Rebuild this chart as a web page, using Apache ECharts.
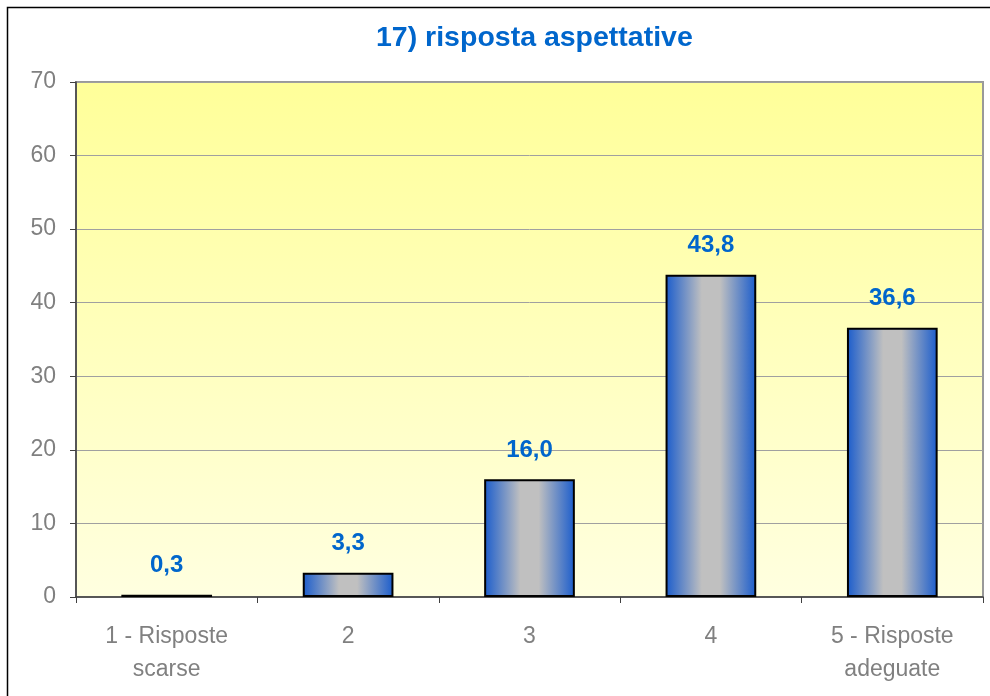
<!DOCTYPE html>
<html>
<head>
<meta charset="utf-8">
<script src="https://cdn.jsdelivr.net/npm/echarts@6/dist/echarts.min.js"></script>
<style>
  html, body { margin: 0; padding: 0; background: #fff; }
  #chart { width: 990px; height: 696px; }
</style>
</head>
<body>
<div id="chart"></div>
<script>
var categories = ["1 - Risposte\nscarse", "2", "3", "4", "5 - Risposte\nadeguate"];
var values = [0.3, 3.3, 16.0, 43.8, 36.6];
var yMax = 70;
var yStep = 10;

var chart = echarts.init(document.getElementById("chart"));

// barre con gradiente orizzontale blu-grigio-blu
var barFill = new echarts.graphic.LinearGradient(0, 0, 1, 0, [
  { offset: 0, color: "#1a5ccc" },
  { offset: 0.4, color: "#c0c0c0" },
  { offset: 0.6, color: "#c0c0c0" },
  { offset: 1, color: "#1a5ccc" }
]);

chart.setOption({
  backgroundColor: "#ffffff",
  animation: false,
  title: {
    text: "17) risposta aspettative",
    left: 371,
    top: 19,
    textStyle: {
      fontFamily: "Liberation Sans",
      fontWeight: "bold",
      fontSize: 28.5,
      color: "#0066cc"
    }
  },
  graphic: [
    {
      type: "rect",
      left: 5,
      top: 5,
      shape: { width: 1000, height: 1000 },
      style: { fill: "none", stroke: "#000", lineWidth: 1.5 },
      silent: true
    }
  ],
  grid: {
    left: 76,
    right: 7,
    top: 82,
    bottom: 99,
    show: true,
    borderColor: "#999",
    borderWidth: 2,
    backgroundColor: new echarts.graphic.LinearGradient(0, 0, 0, 1, [
      { offset: 0, color: "#ffff99" },
      { offset: 1, color: "#ffffe0" }
    ])
  },
  xAxis: {
    type: "category",
    data: categories,
    axisLine: { lineStyle: { color: "#404040", width: 1.5 } },
    axisTick: { show: true, length: 6, lineStyle: { color: "#404040" } },
    axisLabel: {
      color: "#808080",
      fontFamily: "Liberation Sans",
      fontSize: 23,
      lineHeight: 33,
      margin: 23
    }
  },
  yAxis: {
    type: "value",
    min: 0,
    max: yMax,
    interval: yStep,
    axisLine: { show: true, lineStyle: { color: "#404040", width: 1.5 } },
    axisTick: { show: true, length: 6, lineStyle: { color: "#404040" } },
    splitLine: { lineStyle: { color: "#a0a0a0", width: 1 } },
    axisLabel: {
      color: "#808080",
      fontFamily: "Liberation Sans",
      fontSize: 23,
      margin: 20
    }
  },
  series: [
    {
      type: "bar",
      data: values,
      barWidth: "50%",
      itemStyle: {
        color: barFill,
        borderColor: "#000",
        borderWidth: 2
      },
      label: {
        show: true,
        position: "top",
        distance: 17,
        color: "#0066cc",
        fontFamily: "Liberation Sans",
        fontWeight: "bold",
        fontSize: 24,
        formatter: function (p) {
          return p.value.toFixed(1).replace(".", ",");
        }
      }
    }
  ]
});
</script>
</body>
</html>
